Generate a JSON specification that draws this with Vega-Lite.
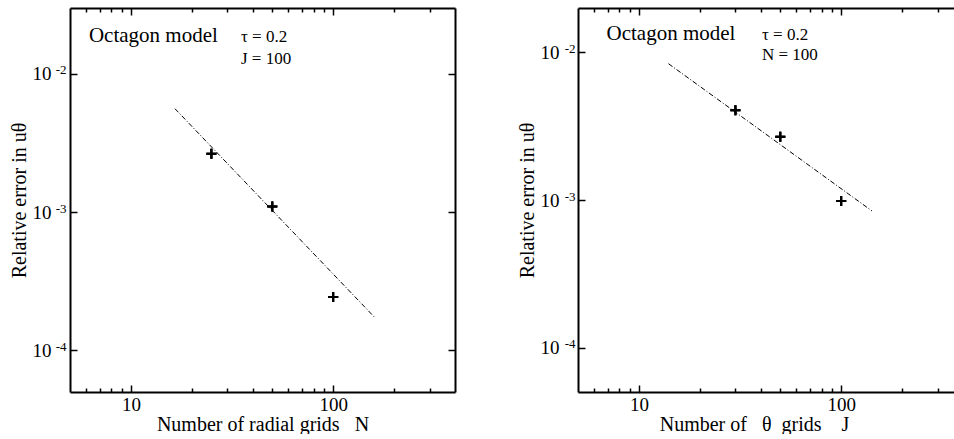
{
  "$schema": "https://vega.github.io/schema/vega-lite/v6.json",
  "padding": {"left": 9, "top": 7, "right": 0, "bottom": 0},
  "spacing": 61,
  "config": {
    "font": "Liberation Serif",
    "view": {"stroke": null},
    "axis": {
      "grid": false,
      "domain": false,
      "domainColor": "black",
      "domainWidth": 2,
      "ticks": true,
      "tickColor": "black",
      "tickWidth": 1.5,
      "labelFont": "Liberation Serif",
      "labelFontSize": 19,
      "labelColor": "black",
      "titleFont": "Liberation Serif",
      "titleFontSize": 20,
      "titleFontWeight": "normal",
      "titleColor": "black"
    }
  },
  "datasets": {
    "left_pts": [{"n": 25, "err": 0.00265}, {"n": 50, "err": 0.0011}, {"n": 100, "err": 0.000243}],
    "left_fit": [{"n": 16.5, "err": 0.00561}, {"n": 161.7, "err": 0.000171}],
    "left_big": [{"n": 6.2, "err": 0.01704, "label": "Octagon model"}],
    "left_small": [{"n": 35, "err": 0.01704, "label": "τ = 0.2"}, {"n": 35, "err": 0.01187, "label": "J = 100"}],
    "right_pts": [{"n": 30, "err": 0.00405}, {"n": 50, "err": 0.00268}, {"n": 100, "err": 0.000985}],
    "right_fit": [{"n": 14.0, "err": 0.00839}, {"n": 141.9, "err": 0.000843}],
    "right_big": [{"n": 6.92, "err": 0.0121, "label": "Octagon model"}],
    "right_small": [{"n": 40.6, "err": 0.0121, "label": "τ = 0.2"}, {"n": 40.6, "err": 0.00888, "label": "N = 100"}]
  },
  "hconcat": [
    {
      "width": 385,
      "height": 384,
      "layer": [
        {
          "data": {"name": "left_fit"},
          "mark": {"type": "line", "color": "black", "strokeWidth": 1, "strokeDash": [5, 2, 1, 2]},
          "encoding": {
            "x": {"field": "n", "type": "quantitative", "scale": {"type": "log", "domain": [5, 400], "nice": false},
              "axis": {"orient": "bottom", "values": [10, 100], "format": "d", "offset": -7, "tickSize": 7, "labelPadding": 3, "title": "Number of radial grids \u2002N", "titlePadding": 0}},
            "y": {"field": "err", "type": "quantitative", "scale": {"type": "log", "domain": [0.00005, 0.03], "nice": false},
              "axis": {"orient": "left", "values": [0.01, 0.001, 0.0001], "offset": -7, "tickSize": 7, "labelPadding": 19,
                "labelExpr": "'10'", "title": "Relative error in uθ", "titlePadding": 3}}
          }
        },
        {
          "data": {"name": "left_pts"},
          "mark": {"type": "point", "shape": "M-1,0H1M0,-1V1", "size": 100, "filled": false, "stroke": "black", "strokeWidth": 2, "opacity": 1},
          "encoding": {
            "x": {"field": "n", "type": "quantitative", "scale": {"type": "log", "domain": [5, 400], "nice": false},
              "axis": {"orient": "top", "values": [10, 100], "offset": -7, "tickSize": 7, "labels": false, "title": null}},
            "y": {"field": "err", "type": "quantitative", "scale": {"type": "log", "domain": [0.00005, 0.03], "nice": false},
              "axis": {"orient": "right", "values": [0.01, 0.001, 0.0001], "offset": -7, "tickSize": 7, "labels": false, "title": null}}
          }
        },
        {
          "data": {"name": "left_big"},
          "mark": {"type": "text", "align": "left", "baseline": "alphabetic", "fontSize": 21, "color": "black", "font": "Liberation Serif"},
          "encoding": {
            "x": {"field": "n", "type": "quantitative", "scale": {"type": "log", "domain": [5, 400], "nice": false},
              "axis": {"orient": "bottom", "values": [6, 7, 8, 9, 20, 30, 40, 50, 60, 70, 80, 90, 200, 300], "offset": -4, "tickSize": 4, "labels": false, "title": null}},
            "y": {"field": "err", "type": "quantitative", "scale": {"type": "log", "domain": [0.00005, 0.03], "nice": false},
              "axis": {"orient": "left", "values": [0.01, 0.001, 0.0001], "ticks": false, "labelPadding": 4, "labelFontSize": 13, "labelOffset": -4,
                "labelExpr": "datum.value > 0.005 ? '-2' : datum.value > 0.0005 ? '-3' : '-4'", "title": null}},
            "text": {"field": "label"}
          }
        },
        {
          "data": {"name": "left_small"},
          "mark": {"type": "text", "align": "left", "baseline": "alphabetic", "fontSize": 17, "color": "black", "font": "Liberation Serif"},
          "encoding": {
            "x": {"field": "n", "type": "quantitative", "scale": {"type": "log", "domain": [5, 400], "nice": false},
              "axis": {"orient": "top", "values": [6, 7, 8, 9, 20, 30, 40, 50, 60, 70, 80, 90, 200, 300], "offset": -4, "tickSize": 4, "labels": false, "title": null}},
            "y": {"field": "err", "type": "quantitative", "scale": {"type": "log", "domain": [0.00005, 0.03], "nice": false}, "axis": null},
            "text": {"field": "label"}
          }
        },
        {
          "data": {"name": "left_pts"},
          "mark": {"type": "point", "shape": "M-1,0H1M0,-1V1", "size": 100, "filled": false, "stroke": "black", "strokeWidth": 2, "opacity": 1},
          "encoding": {
            "x": {"field": "n", "type": "quantitative", "scale": {"type": "log", "domain": [5, 400], "nice": false},
              "axis": {"orient": "bottom", "domain": true, "ticks": false, "labels": false, "title": null}},
            "y": {"field": "err", "type": "quantitative", "scale": {"type": "log", "domain": [0.00005, 0.03], "nice": false},
              "axis": {"orient": "left", "domain": true, "ticks": false, "labels": false, "title": null}}
          }
        },
        {
          "data": {"name": "left_pts"},
          "mark": {"type": "point", "shape": "M-1,0H1M0,-1V1", "size": 100, "filled": false, "stroke": "black", "strokeWidth": 2, "opacity": 1},
          "encoding": {
            "x": {"field": "n", "type": "quantitative", "scale": {"type": "log", "domain": [5, 400], "nice": false},
              "axis": {"orient": "top", "domain": true, "ticks": false, "labels": false, "title": null}},
            "y": {"field": "err", "type": "quantitative", "scale": {"type": "log", "domain": [0.00005, 0.03], "nice": false},
              "axis": {"orient": "right", "domain": true, "ticks": false, "labels": false, "title": null}}
          }
        }
      ],
      "resolve": {"axis": {"x": "independent", "y": "independent"}}
    },
    {
      "width": 385,
      "height": 384,
      "layer": [
        {
          "data": {"name": "right_fit"},
          "mark": {"type": "line", "color": "black", "strokeWidth": 1, "strokeDash": [5, 2, 1, 2]},
          "encoding": {
            "x": {"field": "n", "type": "quantitative", "scale": {"type": "log", "domain": [5, 400], "nice": false},
              "axis": {"orient": "bottom", "values": [10, 100], "format": "d", "offset": -7, "tickSize": 7, "labelPadding": 3, "title": "Number of \u2002θ\u2002grids\u2002\u2002J", "titlePadding": 0, "titleX": 176}},
            "y": {"field": "err", "type": "quantitative", "scale": {"type": "log", "domain": [0.00005, 0.02], "nice": false},
              "axis": {"orient": "left", "values": [0.01, 0.001, 0.0001], "offset": -7, "tickSize": 7, "labelPadding": 19,
                "labelExpr": "'10'", "title": "Relative error in uθ", "titlePadding": 3}}
          }
        },
        {
          "data": {"name": "right_pts"},
          "mark": {"type": "point", "shape": "M-1,0H1M0,-1V1", "size": 100, "filled": false, "stroke": "black", "strokeWidth": 2, "opacity": 1},
          "encoding": {
            "x": {"field": "n", "type": "quantitative", "scale": {"type": "log", "domain": [5, 400], "nice": false},
              "axis": {"orient": "top", "values": [10, 100], "offset": -7, "tickSize": 7, "labels": false, "title": null}},
            "y": {"field": "err", "type": "quantitative", "scale": {"type": "log", "domain": [0.00005, 0.02], "nice": false},
              "axis": {"orient": "right", "values": [0.01, 0.001, 0.0001], "offset": -7, "tickSize": 7, "labels": false, "title": null}}
          }
        },
        {
          "data": {"name": "right_big"},
          "mark": {"type": "text", "align": "left", "baseline": "alphabetic", "fontSize": 21, "color": "black", "font": "Liberation Serif"},
          "encoding": {
            "x": {"field": "n", "type": "quantitative", "scale": {"type": "log", "domain": [5, 400], "nice": false},
              "axis": {"orient": "bottom", "values": [6, 7, 8, 9, 20, 30, 40, 50, 60, 70, 80, 90, 200, 300], "offset": -4, "tickSize": 4, "labels": false, "title": null}},
            "y": {"field": "err", "type": "quantitative", "scale": {"type": "log", "domain": [0.00005, 0.02], "nice": false},
              "axis": {"orient": "left", "values": [0.01, 0.001, 0.0001], "ticks": false, "labelPadding": 3, "labelFontSize": 13, "labelOffset": -4,
                "labelExpr": "datum.value > 0.005 ? '-2' : datum.value > 0.0005 ? '-3' : '-4'", "title": null}},
            "text": {"field": "label"}
          }
        },
        {
          "data": {"name": "right_small"},
          "mark": {"type": "text", "align": "left", "baseline": "alphabetic", "fontSize": 17, "color": "black", "font": "Liberation Serif"},
          "encoding": {
            "x": {"field": "n", "type": "quantitative", "scale": {"type": "log", "domain": [5, 400], "nice": false},
              "axis": {"orient": "top", "values": [6, 7, 8, 9, 20, 30, 40, 50, 60, 70, 80, 90, 200, 300], "offset": -4, "tickSize": 4, "labels": false, "title": null}},
            "y": {"field": "err", "type": "quantitative", "scale": {"type": "log", "domain": [0.00005, 0.02], "nice": false}, "axis": null},
            "text": {"field": "label"}
          }
        },
        {
          "data": {"name": "right_pts"},
          "mark": {"type": "point", "shape": "M-1,0H1M0,-1V1", "size": 100, "filled": false, "stroke": "black", "strokeWidth": 2, "opacity": 1},
          "encoding": {
            "x": {"field": "n", "type": "quantitative", "scale": {"type": "log", "domain": [5, 400], "nice": false},
              "axis": {"orient": "bottom", "domain": true, "ticks": false, "labels": false, "title": null}},
            "y": {"field": "err", "type": "quantitative", "scale": {"type": "log", "domain": [0.00005, 0.02], "nice": false},
              "axis": {"orient": "left", "domain": true, "ticks": false, "labels": false, "title": null}}
          }
        },
        {
          "data": {"name": "right_pts"},
          "mark": {"type": "point", "shape": "M-1,0H1M0,-1V1", "size": 100, "filled": false, "stroke": "black", "strokeWidth": 2, "opacity": 1},
          "encoding": {
            "x": {"field": "n", "type": "quantitative", "scale": {"type": "log", "domain": [5, 400], "nice": false},
              "axis": {"orient": "top", "domain": true, "ticks": false, "labels": false, "title": null}},
            "y": {"field": "err", "type": "quantitative", "scale": {"type": "log", "domain": [0.00005, 0.02], "nice": false},
              "axis": {"orient": "right", "domain": true, "ticks": false, "labels": false, "title": null}}
          }
        }
      ],
      "resolve": {"axis": {"x": "independent", "y": "independent"}}
    }
  ]
}
